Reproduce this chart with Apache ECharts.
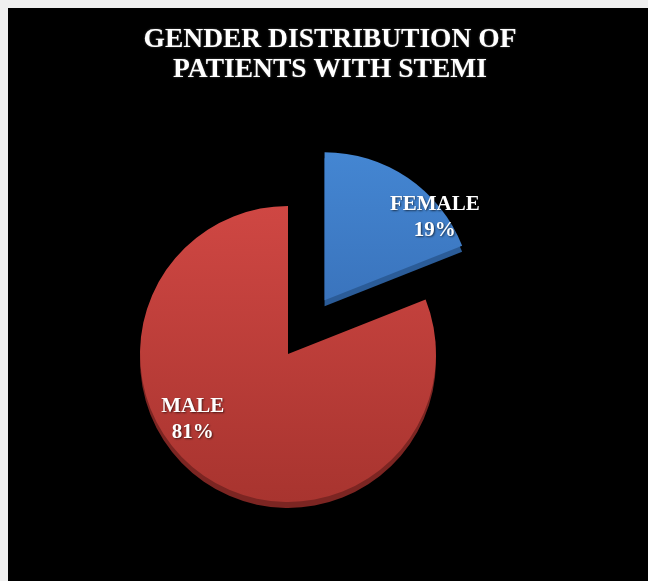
<!DOCTYPE html>
<html>
<head>
<meta charset="utf-8">
<script src="https://cdn.jsdelivr.net/npm/echarts@6/dist/echarts.min.js"></script>
<style>
  html, body { margin: 0; padding: 0; background: #f0f0f0; }
  #frame { position: absolute; left: 8px; top: 8px; width: 640px; height: 573px; background: #000; }
  #chart { position: absolute; left: 0; top: 0; width: 648px; height: 581px; }
</style>
</head>
<body>
<div id="frame"></div>
<div id="chart"></div>
<script>
const titleText = 'GENDER DISTRIBUTION OF\nPATIENTS WITH STEMI';
const categories = ['FEMALE', 'MALE'];
const values = [19, 81];
const percentLabels = ['19%', '81%'];

const topColors = [
  new echarts.graphic.LinearGradient(0, 0, 0, 1, [{offset: 0, color: '#4486d2'}, {offset: 1, color: '#3a74bd'}]),
  new echarts.graphic.LinearGradient(0, 0, 0, 1, [{offset: 0, color: '#cf4743'}, {offset: 1, color: '#a8342f'}])
];
const rimColors = ['#2b5c98', '#7c2522'];
const labelShift = [[67, -19], [-52, 2]];

const chart = echarts.init(document.getElementById('chart'));
const center = [288, 354];
const radius = 148;
const offset = 65;

function makeData(colors) {
  return categories.map((c, i) => ({
    name: c,
    value: values[i],
    selected: i === 0,
    itemStyle: { color: colors[i] }
  }));
}

chart.setOption({
  animation: false,
  title: {
    text: titleText,
    left: 330,
    top: 25,
    padding: 0,
    textAlign: 'center',
    textStyle: {
      color: '#ffffff',
      fontFamily: 'Liberation Serif',
      fontWeight: 'bold',
      fontSize: 27.5,
      lineHeight: 30,
      textShadowColor: 'rgba(255,255,255,0.35)',
      textShadowBlur: 2
    }
  },
  series: [
    {
      type: 'pie',
      silent: true,
      center: [center[0], center[1] + 6],
      radius: radius,
      startAngle: 90,
      selectedMode: 'single',
      selectedOffset: offset,
      label: { show: false },
      labelLine: { show: false },
      data: makeData(rimColors),
      z: 1
    },
    {
      type: 'pie',
      silent: true,
      center: center,
      radius: radius,
      startAngle: 90,
      selectedMode: 'single',
      selectedOffset: offset,
      label: {
        show: true,
        position: 'inside',
        formatter: p => p.name + '\n' + percentLabels[p.dataIndex],
        color: '#ffffff',
        fontFamily: 'Liberation Serif',
        fontWeight: 'bold',
        fontSize: 21,
        lineHeight: 26,
        textShadowColor: 'rgba(0,0,0,0.6)',
        textShadowBlur: 2,
        textShadowOffsetX: 1,
        textShadowOffsetY: 1
      },
      labelLayout: p => ({ dx: labelShift[p.dataIndex][0], dy: labelShift[p.dataIndex][1] }),
      labelLine: { show: false },
      data: makeData(topColors),
      z: 2
    }
  ]
});
</script>
</body>
</html>
